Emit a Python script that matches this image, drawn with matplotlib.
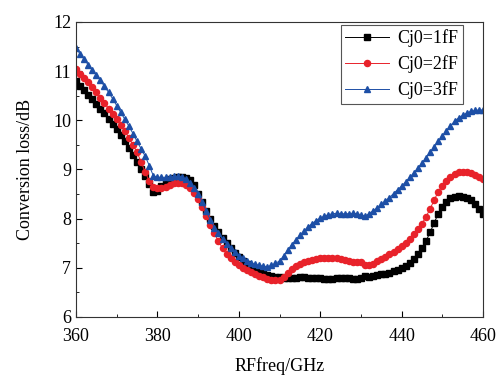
import matplotlib
matplotlib.use("Agg")
import matplotlib.pyplot as plt
from matplotlib.ticker import MultipleLocator

freq = list(range(360, 461))

cj0_1ff = [
    10.80, 10.70, 10.61, 10.52, 10.44, 10.33, 10.24, 10.14, 10.03, 9.93,
    9.82, 9.70, 9.57, 9.43, 9.30, 9.16, 9.02, 8.86, 8.70, 8.55,
    8.57, 8.66, 8.74, 8.80, 8.83, 8.85, 8.85, 8.83, 8.78, 8.68,
    8.50, 8.33, 8.15, 8.00, 7.86, 7.73, 7.61, 7.50, 7.40, 7.30,
    7.22, 7.14, 7.08, 7.02, 6.97, 6.93, 6.89, 6.86, 6.84, 6.82,
    6.81, 6.80, 6.80, 6.80, 6.80, 6.81, 6.81, 6.80, 6.80, 6.79,
    6.79, 6.78, 6.78, 6.78, 6.79, 6.79, 6.79, 6.79, 6.78, 6.78,
    6.79, 6.83, 6.82, 6.83, 6.85, 6.87, 6.88, 6.90, 6.93, 6.96,
    7.00, 7.04, 7.10, 7.18, 7.28, 7.40, 7.55, 7.72, 7.92, 8.10,
    8.24, 8.34, 8.41, 8.45, 8.46, 8.45, 8.42, 8.38, 8.30, 8.20,
    8.10,
]

cj0_2ff = [
    11.05, 10.95, 10.86, 10.77, 10.67, 10.57, 10.46, 10.35, 10.24, 10.13,
    10.02, 9.90, 9.78, 9.64, 9.50, 9.35, 9.15, 8.95, 8.76, 8.65,
    8.62, 8.62, 8.65, 8.69, 8.72, 8.73, 8.72, 8.68, 8.62, 8.52,
    8.40, 8.24, 8.06, 7.88, 7.70, 7.54, 7.40, 7.28, 7.19, 7.11,
    7.05, 7.00, 6.96, 6.92, 6.88, 6.84, 6.81, 6.78, 6.76, 6.75,
    6.76, 6.82, 6.90, 6.97, 7.03, 7.07, 7.11, 7.14, 7.16, 7.18,
    7.19, 7.20, 7.20, 7.20, 7.19, 7.17, 7.15, 7.13, 7.12, 7.12,
    7.12, 7.06, 7.05, 7.08, 7.13, 7.18, 7.23, 7.28, 7.33, 7.38,
    7.44, 7.51, 7.59, 7.68, 7.78, 7.90, 8.04, 8.20, 8.38, 8.55,
    8.67, 8.77, 8.85, 8.91, 8.94, 8.95, 8.95, 8.93, 8.89, 8.84,
    8.80,
]

cj0_3ff = [
    11.47, 11.35, 11.24, 11.13, 11.02, 10.92, 10.81, 10.69, 10.57, 10.44,
    10.30, 10.16, 10.02, 9.88, 9.73, 9.57, 9.42, 9.27, 9.08, 8.87,
    8.84, 8.84, 8.84, 8.85, 8.86, 8.86, 8.85, 8.80, 8.73, 8.62,
    8.50, 8.34, 8.15, 7.97, 7.82, 7.70, 7.59, 7.49, 7.40, 7.32,
    7.25, 7.19, 7.14, 7.10, 7.07, 7.05, 7.03, 7.02, 7.05, 7.09,
    7.14, 7.24, 7.36, 7.47, 7.57, 7.66, 7.75, 7.83, 7.90, 7.96,
    8.01, 8.05, 8.08, 8.10, 8.11, 8.10, 8.10, 8.10, 8.11, 8.10,
    8.08, 8.05, 8.10, 8.16, 8.22, 8.29, 8.36, 8.43, 8.51, 8.59,
    8.66, 8.75, 8.84, 8.93, 9.03, 9.13, 9.24, 9.35, 9.46, 9.57,
    9.68, 9.79, 9.89, 9.98, 10.05, 10.10, 10.15, 10.18, 10.20, 10.21,
    10.21,
]

plt.rcParams['font.family'] = ['Liberation Serif', 'DejaVu Serif']
plt.rcParams['font.size'] = 13

fig = plt.figure(figsize=(4.98, 3.79), dpi=100)
ax = fig.add_axes([0.1526, 0.1636, 0.8174, 0.7784])

ax.plot(freq, cj0_1ff, color='black', marker='s', markersize=3.9, linewidth=0.7,
        label='Cj0=1fF')
ax.plot(freq, cj0_2ff, color='#e8222a', marker='o', markersize=4.4, linewidth=0.7,
        label='Cj0=2fF')
ax.plot(freq, cj0_3ff, color='#1d4fa6', marker='^', markersize=4.7, linewidth=0.7,
        label='Cj0=3fF')

ax.set_xlim(360, 460)
ax.set_ylim(6, 12)
ax.xaxis.set_major_locator(MultipleLocator(20))
ax.xaxis.set_minor_locator(MultipleLocator(10))
ax.yaxis.set_major_locator(MultipleLocator(1))
ax.yaxis.set_minor_locator(MultipleLocator(0.5))
ax.tick_params(which='both', direction='in', top=False, right=False)
ax.tick_params(which='major', length=4, labelsize=13)
ax.tick_params(which='minor', length=2.5)
ax.tick_params(axis='x', which='major', pad=8)
for s in ax.spines.values():
    s.set_linewidth(0.8)
    s.set_color('#333333')

ax.set_xlabel('RFfreq/GHz', fontsize=13, labelpad=9)
ax.set_ylabel('Conversion loss/dB', fontsize=13, labelpad=14)

# legend box sits just under the top spine, a little in from the right
leg = ax.legend(loc='upper right', bbox_to_anchor=(0.951, 0.99), borderaxespad=0,
                fancybox=False, edgecolor='#555555', framealpha=1, handlelength=2.4,
                borderpad=0.25, labelspacing=0.45, handletextpad=0.5,
                fontsize=13)
leg.get_frame().set_linewidth(0.8)

fig.savefig('out.png', dpi=100)
